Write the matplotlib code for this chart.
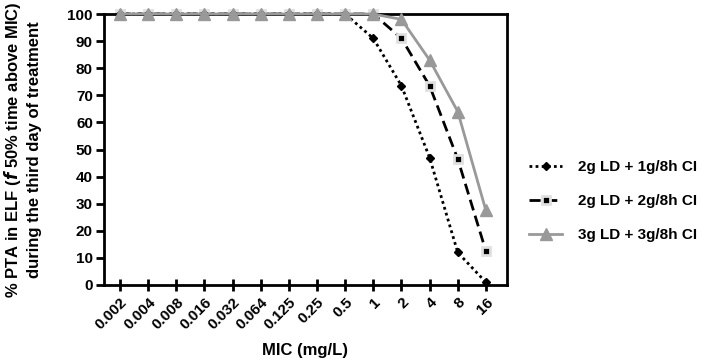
import matplotlib
matplotlib.use("Agg")
import matplotlib.pyplot as plt
import numpy as np

plt.rcParams['font.family'] = ['Liberation Sans', 'DejaVu Sans']

mic_labels = ["0.002", "0.004", "0.008", "0.016", "0.032", "0.064", "0.125",
              "0.25", "0.5", "1", "2", "4", "8", "16"]
pta_2g_1g = [100, 100, 100, 100, 100, 100, 100, 100, 100, 91, 73.5, 47, 12, 1]
pta_2g_2g = [100, 100, 100, 100, 100, 100, 100, 100, 100, 100, 91, 73.5, 46.5, 12.5]
pta_3g_3g = [100, 100, 100, 100, 100, 100, 100, 100, 100, 100, 98, 83, 64, 27.5]
series_names = ["2g LD + 1g/8h CI", "2g LD + 2g/8h CI", "3g LD + 3g/8h CI"]

fig = plt.figure(figsize=(7.09, 3.61), dpi=100)
ax = fig.add_axes([104/709, 76/361, (507-104)/709, (285-14)/361])
x = np.arange(len(mic_labels))

ax.plot(x, pta_2g_1g, linestyle=(0, (1, 1.2)), color='black', linewidth=2,
        marker='D', markersize=4.5, markerfacecolor='black', markeredgecolor='black',
        clip_on=False, label=series_names[0], zorder=3)
ax.plot(x, pta_2g_2g, linestyle=(0, (4, 2)), color='black', linewidth=2,
        marker='s', markersize=6, markerfacecolor='black', markeredgecolor='#e0e0e0',
        markeredgewidth=2, clip_on=False, label=series_names[1], zorder=2)
ax.plot(x, pta_3g_3g, linestyle='-', color='#999999', linewidth=2,
        marker='^', markersize=8, markerfacecolor='#999999', markeredgecolor='#999999',
        clip_on=False, label=series_names[2], zorder=4)

ax.set_xlim(-0.57, 13.75)
ax.set_ylim(0, 100)
ax.set_yticks(np.arange(0, 101, 10))
ax.set_xticks(x)
ax.set_xticklabels(mic_labels, rotation=45, ha='right', rotation_mode='anchor',
                   fontweight='bold', fontsize=11)
for lab in ax.get_yticklabels():
    lab.set_fontweight('bold')
    lab.set_fontsize(11)
ax.tick_params(axis='both', direction='inout', length=8, width=2)
ax.tick_params(axis='y', direction='out', length=6, pad=2)
for s in ax.spines.values():
    s.set_linewidth(2)

ax.set_xlabel("MIC (mg/L)", fontweight='bold', fontsize=12, labelpad=8)
ax.set_ylabel("% PTA in ELF ($\\mathbfit{f}$ 50% time above MIC)\nduring the third day of treatment",
              fontweight='bold', fontsize=12, labelpad=18, linespacing=1.4)

leg = ax.legend(loc='center left', bbox_to_anchor=(1.02, 0.31), frameon=False,
                prop={'weight': 'bold', 'size': 11},
                handlelength=2.2, labelspacing=1.3, handletextpad=1.0)

fig.savefig("out.png", dpi=100)
